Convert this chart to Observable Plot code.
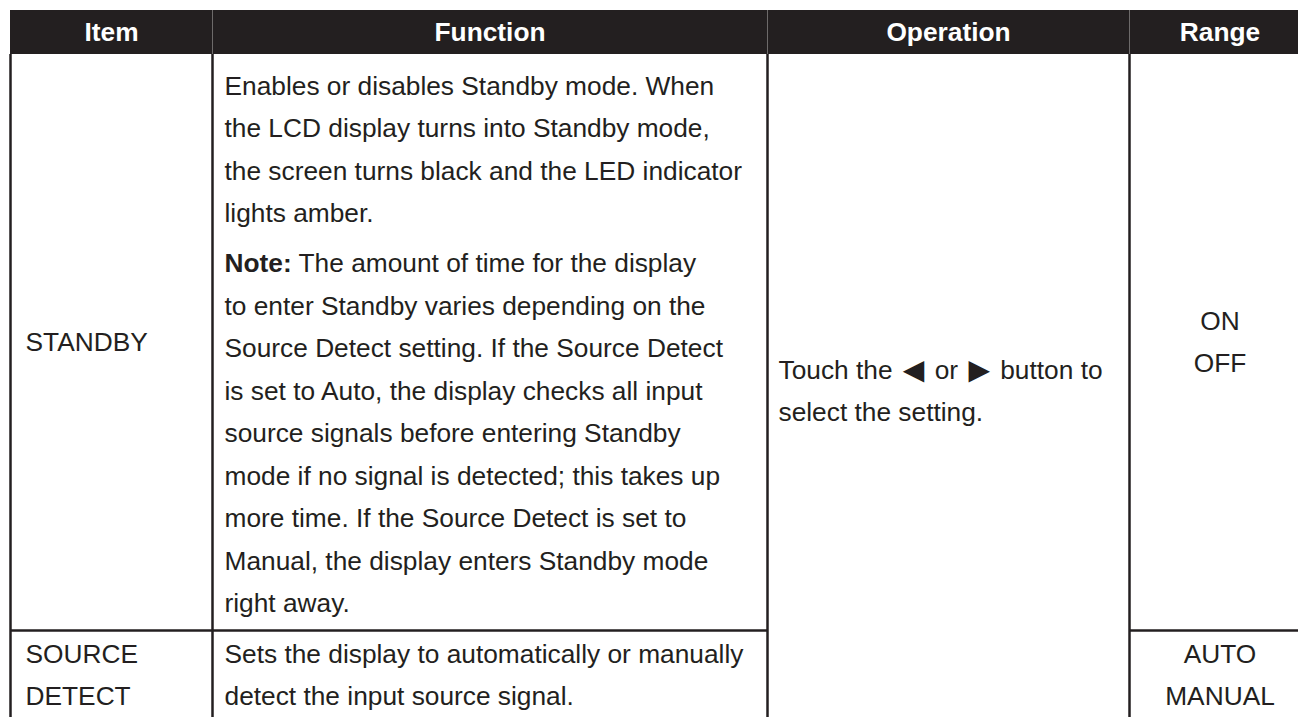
<!DOCTYPE html>
<html>
<head>
<meta charset="utf-8">
<script src="https://cdn.jsdelivr.net/npm/d3@7"></script>
<script src="https://cdn.jsdelivr.net/npm/@observablehq/plot@0.6"></script>
<style>
  html, body { margin: 0; padding: 0; background: #fff; }
  svg { display: block; }
</style>
</head>
<body>
<div id="chart"></div>
<script>
// ---- data ----
const headers = ["Item", "Function", "Operation", "Range"];
const items = [["STANDBY"], ["SOURCE", "DETECT"]];
const functionParagraphs = [
  [
    "Enables or disables Standby mode. When",
    "the LCD display turns into Standby mode,",
    "the screen turns black and the LED indicator",
    "lights amber."
  ],
  [
    "Note: The amount of time for the display",
    "to enter Standby varies depending on the",
    "Source Detect setting. If the Source Detect",
    "is set to Auto, the display checks all input",
    "source signals before entering Standby",
    "mode if no signal is detected; this takes up",
    "more time. If the Source Detect is set to",
    "Manual, the display enters Standby mode",
    "right away."
  ]
];
const function2Lines = [
  "Sets the display to automatically or manually",
  "detect the input source signal."
];
const operationLines = ["Touch the \u25C0 or \u25B6 button to", "select the setting."];
const ranges = [["ON", "OFF"], ["AUTO", "MANUAL"]];

// ---- layout ----
const W = 1298, H = 717;
const colEdges = [10, 212, 767, 1129, 1310];
const headTop = 10, headBottom = 54;
const rowEdges = [54, 630];
const step = 42.5, paraGap = 7.5, firstPad = 32;
const row1Mid = 342, row2First = 654, opMid = 391;
const ink = "#231f20";
const fs = 26.3;
const font = "'Liberation Sans', Arial, Helvetica, sans-serif";

const colCenter = i => (colEdges[i] + colEdges[i + 1]) / 2;
// lines of a block centred on mid
const block = (lines, mid) => lines.map((t, i) => ({text: t, y: mid + (i - (lines.length - 1) / 2) * step}));
// lines of a block starting at first
const fromTop = (lines, first) => lines.map((t, i) => ({text: t, y: first + i * step}));

// function column lines
const fnLines = [];
let yy = rowEdges[0] + firstPad;
functionParagraphs.forEach((p, pi) => {
  if (pi > 0) yy += paraGap;
  p.forEach(t => { fnLines.push({text: t, y: yy}); yy += step; });
});
fnLines.push(...fromTop(function2Lines, row2First));

const opLines = block(operationLines, opMid);
const itemLines = [...block(items[0], row1Mid), ...fromTop(items[1], row2First)];
const rangeLines = [...block(ranges[0], row1Mid), ...fromTop(ranges[1], row2First)];
const headerCells = headers.map((h, i) => ({text: h, x: colCenter(i)}));

// grid lines
const vLines = [0, 1, 2, 3].map(i => ({x: colEdges[i], y1: headBottom, y2: H + 20}));
const headSeps = [1, 2, 3].map(i => ({x: colEdges[i], y1: headTop, y2: headBottom}));
const hLines = [
  {x1: colEdges[0], x2: colEdges[2], y: rowEdges[1]},
  {x1: colEdges[3], x2: W + 20, y: rowEdges[1]}
];

const bodyText = (data, x, anchor) => Plot.text(data, {x, y: "y", text: "text", fill: ink, fontSize: fs,
  textAnchor: anchor, lineAnchor: "middle"});

const plot = Plot.plot({
  width: W,
  height: H,
  margin: 0,
  x: {domain: [0, W], range: [0, W], axis: null},
  y: {domain: [0, H], range: [0, H], axis: null},
  style: {fontFamily: font, background: "#fff", color: ink},
  marks: [
    Plot.rect([{}], {x1: colEdges[0], x2: W + 20, y1: headTop, y2: headBottom, fill: ink}),
    Plot.ruleX(headSeps, {x: "x", y1: "y1", y2: "y2", stroke: "#6d6a6a", strokeWidth: 1}),
    Plot.ruleX(vLines, {x: "x", y1: "y1", y2: "y2", stroke: ink, strokeWidth: 2.5}),
    Plot.ruleY(hLines, {y: "y", x1: "x1", x2: "x2", stroke: ink, strokeWidth: 2.5}),
    Plot.text(headerCells, {x: "x", y: () => (headTop + headBottom) / 2, text: "text", fill: "#fff",
      fontWeight: "bold", fontSize: fs, textAnchor: "middle", lineAnchor: "middle"}),
    bodyText(itemLines, () => colEdges[0] + 15, "start"),
    bodyText(fnLines, () => colEdges[1] + 12, "start"),
    bodyText(opLines, () => colEdges[2] + 11, "start"),
    bodyText(rangeLines, () => colCenter(3), "middle")
  ]
});

// rich text fix-ups: bold "Note:" and wider arrow glyphs
d3.select(plot).selectAll("text").each(function () {
  const t = this.textContent;
  const sel = d3.select(this);
  if (t.startsWith("Note:")) {
    sel.text(null);
    sel.append("tspan").attr("font-weight", "bold").text("Note:");
    sel.append("tspan").text(t.slice(5));
  } else if (/[\u25C0\u25B6]/.test(t)) {
    const parts = t.split(/([\u25C0\u25B6])/);
    sel.text(null);
    parts.forEach((p, i) => {
      if (!p) return;
      const ts = sel.append("tspan").text(p);
      if (/[\u25C0\u25B6]/.test(p)) ts.attr("font-size", 28).attr("font-family", "'DejaVu Sans', sans-serif").attr("dx", 3);
      else if (i > 0) ts.attr("dx", 3);
    });
  }
});

document.getElementById("chart").appendChild(plot);
</script>
</body>
</html>
